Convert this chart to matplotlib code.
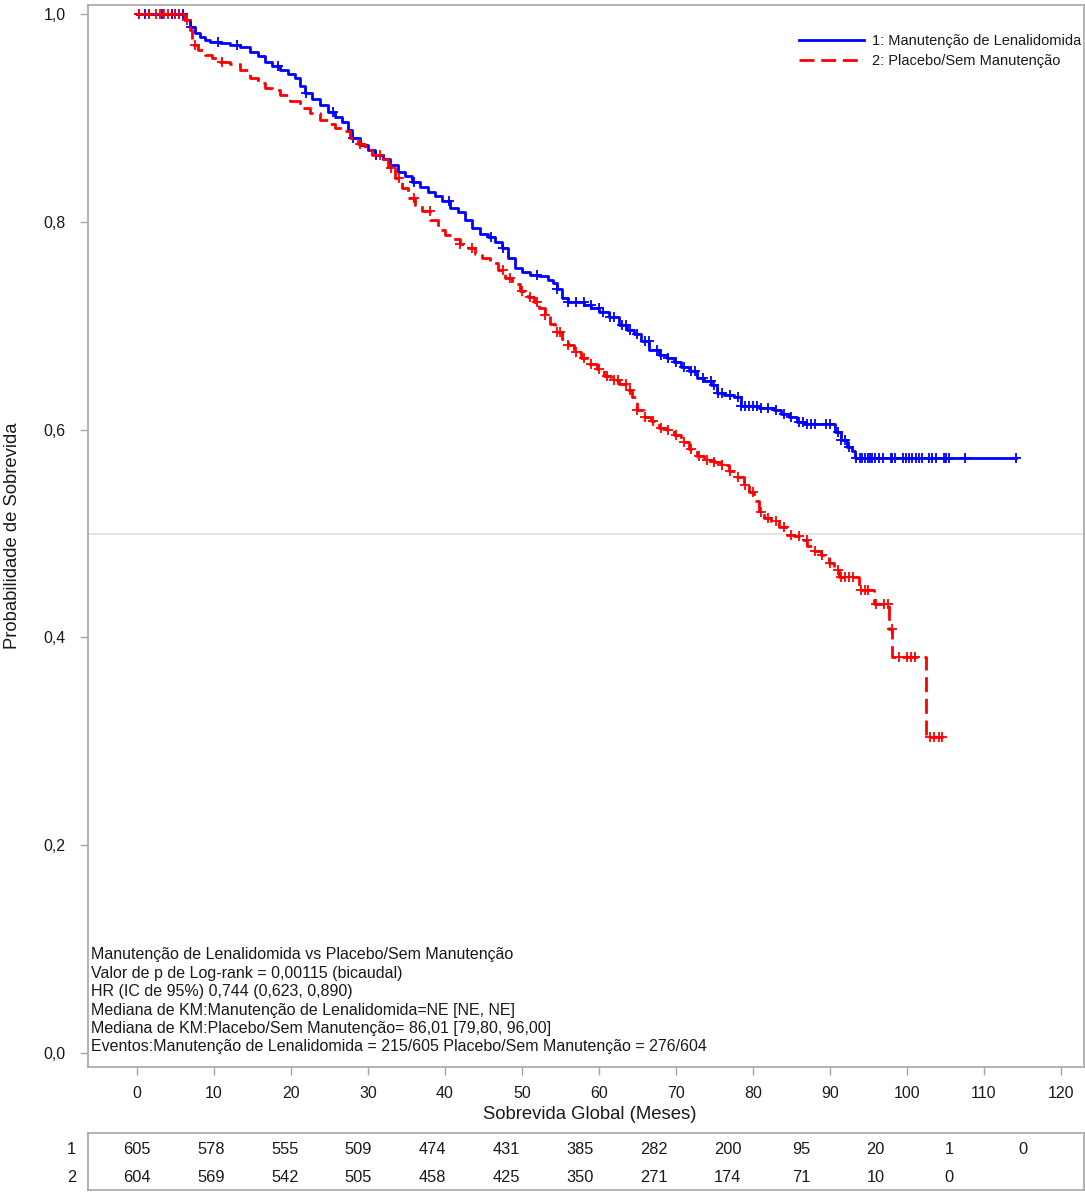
import numpy as np
import matplotlib
matplotlib.use("Agg")
import matplotlib.pyplot as plt

plt.rcParams['font.family'] = ['Liberation Sans', 'DejaVu Sans']

# ---- data ----
group_labels = ["1: Manutenção de Lenalidomida", "2: Placebo/Sem Manutenção"]

lena_t = [0, 6.23, 6.88, 7.53, 8.17, 8.82, 9.47, 10.77, 12.07, 13.36, 14.66, 15.70,
          16.61, 17.51, 18.55, 19.59, 20.50, 21.15, 21.80, 22.70, 23.74, 24.78, 25.69,
          26.60, 27.37, 27.89, 28.93, 29.97, 30.88, 31.92, 32.82, 33.86, 34.77, 35.68,
          36.72, 37.75, 38.66, 39.57, 40.61, 41.65, 42.55, 43.46, 44.50, 45.54, 46.45,
          47.35, 48.13, 49.04, 49.95, 50.99, 52.28, 53.32, 53.97, 54.49, 55.14, 55.92,
          58.12, 59.03, 60.07, 61.37, 62.66, 63.70, 64.61, 65.52, 66.55, 67.85, 68.89,
          69.80, 70.71, 71.74, 72.78, 73.69, 74.60, 75.38, 76.28, 77.58, 78.49, 80.83,
          82.77, 83.68, 84.72, 85.76, 86.66, 90.69, 91.46, 92.24, 92.89, 93.28, 114.2]
lena_s = [1.0, 0.994, 0.988, 0.982, 0.978, 0.975, 0.973, 0.972, 0.970, 0.968, 0.963,
          0.960, 0.954, 0.950, 0.946, 0.942, 0.938, 0.931, 0.924, 0.918, 0.912, 0.906,
          0.901, 0.896, 0.888, 0.881, 0.874, 0.869, 0.864, 0.860, 0.855, 0.848, 0.844,
          0.838, 0.834, 0.829, 0.825, 0.820, 0.813, 0.809, 0.802, 0.794, 0.788, 0.785,
          0.781, 0.775, 0.765, 0.756, 0.752, 0.749, 0.748, 0.744, 0.741, 0.735, 0.727,
          0.723, 0.720, 0.717, 0.713, 0.708, 0.701, 0.696, 0.692, 0.685, 0.677, 0.672,
          0.669, 0.665, 0.660, 0.656, 0.650, 0.647, 0.643, 0.635, 0.633, 0.631, 0.623,
          0.621, 0.619, 0.615, 0.612, 0.607, 0.605, 0.598, 0.590, 0.583, 0.579, 0.573,
          0.573]
lena_cens = [0.2, 1.0, 1.5, 3.2, 4.5, 5.0, 5.5, 6.0, 7.0, 10.5, 13.0, 18.3, 22.0, 25.5,
             28.0, 31.0, 36.0, 40.5, 46.0, 47.5, 52.0, 54.5, 56.0, 57.0, 58.0, 59.0,
             60.0, 60.5, 61.5, 62.0, 63.0, 63.5, 64.0, 65.0, 66.0, 66.5, 67.5, 68.0,
             69.0, 70.0, 71.0, 72.0, 72.5, 73.5, 74.5, 75.0, 75.5, 76.0, 77.0, 78.0,
             78.5, 79.0, 79.5, 80.0, 80.5, 81.0, 82.0, 83.0, 84.0, 85.0, 86.0, 86.5,
             87.0, 87.5, 88.0, 89.5, 90.0, 91.0, 91.5, 92.0, 92.5, 93.4, 93.9, 94.2,
             94.6, 94.9, 95.2, 95.5, 95.8, 96.4, 96.9, 97.9, 98.1, 98.5, 99.5, 99.9,
             100.3, 100.7, 101.2, 101.6, 102.0, 102.9, 103.3, 103.8, 104.8, 105.1,
             105.5, 107.6, 114.2]

plac_t = [0, 6.23, 6.88, 7.14, 7.91, 8.82, 9.73, 10.77, 12.07, 13.36, 14.66, 15.70,
          16.61, 17.51, 18.55, 19.85, 21.15, 22.44, 23.74, 24.78, 25.69, 26.60, 27.63,
          28.67, 29.58, 30.49, 31.53, 32.56, 33.47, 34.38, 35.16, 36.07, 36.97, 38.01,
          39.05, 39.96, 40.87, 41.90, 42.94, 43.85, 44.76, 45.80, 46.83, 47.74, 48.65,
          49.69, 50.73, 51.63, 52.28, 52.93, 53.58, 54.23, 55.14, 55.92, 56.82, 57.73,
          58.77, 59.81, 60.72, 61.62, 62.66, 63.70, 64.35, 65.00, 65.91, 66.81, 67.85,
          68.89, 69.80, 70.71, 71.74, 72.78, 73.69, 74.99, 75.89, 76.93, 77.97, 78.88,
          79.53, 80.18, 80.83, 81.47, 82.38, 83.42, 84.33, 85.37, 86.27, 87.05, 87.96,
          88.87, 89.91, 90.56, 91.20, 93.80, 95.75, 97.69, 98.08, 102.49, 104.7]
plac_s = [1.0, 0.994, 0.985, 0.970, 0.965, 0.961, 0.958, 0.954, 0.952, 0.946, 0.938,
          0.934, 0.929, 0.927, 0.922, 0.916, 0.910, 0.905, 0.898, 0.894, 0.890, 0.887,
          0.881, 0.875, 0.869, 0.864, 0.860, 0.852, 0.842, 0.833, 0.823, 0.816, 0.810,
          0.802, 0.792, 0.787, 0.783, 0.779, 0.775, 0.769, 0.765, 0.760, 0.754, 0.746,
          0.740, 0.733, 0.728, 0.723, 0.717, 0.710, 0.702, 0.694, 0.687, 0.681, 0.675,
          0.669, 0.663, 0.658, 0.652, 0.648, 0.644, 0.638, 0.631, 0.619, 0.612, 0.608,
          0.602, 0.600, 0.595, 0.588, 0.581, 0.575, 0.571, 0.569, 0.566, 0.560, 0.554,
          0.547, 0.540, 0.531, 0.521, 0.515, 0.512, 0.506, 0.499, 0.498, 0.494, 0.488,
          0.483, 0.479, 0.472, 0.465, 0.458, 0.446, 0.432, 0.408, 0.381, 0.304, 0.304]
plac_cens = [0.3, 1.5, 2.5, 3.0, 3.5, 4.0, 5.0, 5.5, 6.5, 7.5, 11.0, 29.0, 31.5, 33.0,
             34.0, 36.0, 38.0, 42.0, 43.5, 47.5, 48.5, 50.0, 51.0, 52.0, 53.0, 54.5,
             55.0, 56.0, 57.0, 58.0, 59.0, 60.0, 61.0, 62.0, 62.5, 63.5, 64.0, 65.0,
             66.0, 67.0, 68.0, 69.0, 70.0, 71.0, 72.0, 73.0, 74.0, 75.0, 76.0, 77.0,
             78.0, 79.0, 80.0, 81.0, 82.0, 83.0, 84.0, 85.0, 86.0, 87.0, 88.0, 89.0,
             90.0, 91.0, 91.5, 92.0, 92.5, 93.0, 94.0, 94.5, 95.0, 96.0, 97.0, 97.5,
             98.0, 99.0, 100.0, 100.5, 101.0, 103.0, 103.5, 104.2, 104.6]

risk_times = [0, 10, 20, 30, 40, 50, 60, 70, 80, 90, 100, 110, 120]
risk_lena = [605, 578, 555, 509, 474, 431, 385, 282, 200, 95, 20, 1, 0]
risk_plac = [604, 569, 542, 505, 458, 425, 350, 271, 174, 71, 10, 0]

stats_lines = [
    "Manutenção de Lenalidomida vs Placebo/Sem Manutenção",
    "Valor de p de Log-rank = 0,00115 (bicaudal)",
    "HR (IC de 95%) 0,744 (0,623, 0,890)",
    "Mediana de KM:Manutenção de Lenalidomida=NE [NE, NE]",
    "Mediana de KM:Placebo/Sem Manutenção= 86,01 [79,80, 96,00]",
    "Eventos:Manutenção de Lenalidomida = 215/605 Placebo/Sem Manutenção = 276/604",
]

xticks = [0, 10, 20, 30, 40, 50, 60, 70, 80, 90, 100, 110, 120]
yticks = [0.0, 0.2, 0.4, 0.6, 0.8, 1.0]

# ---- figure ----
W, H = 1085, 1192
fig = plt.figure(figsize=(W / 100, H / 100), dpi=100)
gray = "#a6a6a6"
txt = "#1a1a1a"
FS = 11.5

xmin, xmax = -6.36, 123.0
ax_l, ax_r, ax_t, ax_b = 88, 1084, 5, 1067
ax = fig.add_axes([ax_l / W, 1 - ax_b / H, (ax_r - ax_l) / W, (ax_b - ax_t) / H])
ax.set_xlim(xmin, xmax)
ax.set_ylim(-0.0135, 1.0087)

ax.axhline(0.5, color="#e0e0e0", lw=1.2, zorder=1)


def step_val(ts, ss, t):
    idx = np.searchsorted(ts, t, side="right") - 1
    return np.asarray(ss)[idx]


ax.step(lena_t, lena_s, where="post", color="#0000ff", lw=2.0, zorder=3,
        label=group_labels[0])
ax.step(plac_t, plac_s, where="post", color="#ff0000", lw=2.0, zorder=4,
        dashes=(5.4, 2.4), label=group_labels[1])
ax.plot(lena_cens, step_val(lena_t, lena_s, lena_cens), ls="none", marker="+",
        ms=7.5, mew=1.3, color="#0000ff", zorder=3)
ax.plot(plac_cens, step_val(plac_t, plac_s, plac_cens), ls="none", marker="+",
        ms=7.5, mew=1.3, color="#ff0000", zorder=4)

for sp in ax.spines.values():
    sp.set_color(gray)
    sp.set_linewidth(1.2)

ax.set_xticks(xticks)
ax.set_xticklabels([str(v) for v in xticks])
ax.set_yticks(yticks)
ax.set_yticklabels([f"{v:.1f}".replace(".", ",") for v in yticks])
ax.tick_params(axis="both", direction="out", length=6, width=1, color=gray,
               labelsize=FS, labelcolor=txt)
ax.tick_params(axis="x", pad=8)
ax.tick_params(axis="y", pad=10)

ax.set_xlabel("Sobrevida Global (Meses)", fontsize=13.3, color=txt)
ax.xaxis.set_label_coords(0.504, (ax_b - 1106) / (ax_b - ax_t))
ax.set_ylabel("Probabilidade de Sobrevida", fontsize=13.3, color=txt)
ax.yaxis.set_label_coords((21 - ax_l) / (ax_r - ax_l), 0.5)

leg = ax.legend(loc="upper right", bbox_to_anchor=(1087 / W, 1 - 28 / H),
                bbox_transform=fig.transFigure, frameon=False,
                fontsize=10.5, handlelength=4.45, handletextpad=0.55,
                labelspacing=0.42, borderaxespad=0.0)
for t in leg.get_texts():
    t.set_color(txt)

for i, line in enumerate(stats_lines):
    fig.text(91 / W, 1 - (955 + i * 18.4) / H, line, fontsize=11.5,
             color=txt, va="center", ha="left")

# ---- risk table (its own, slightly narrower time scale) ----
rt_t, rt_b = 1133, 1190
rax = fig.add_axes([ax_l / W, 1 - rt_b / H, (ax_r - ax_l) / W, (rt_b - rt_t) / H])
rscale = (1023 - 137) / 120.0
rax.set_xlim((ax_l - 137) / rscale, (ax_r - 137) / rscale)
rax.set_ylim(0, 1)
for sp in rax.spines.values():
    sp.set_color(gray)
    sp.set_linewidth(1.2)
rax.set_xticks([])
rax.set_yticks([])
r1 = (rt_b - 1150) / (rt_b - rt_t)
r2 = (rt_b - 1178) / (rt_b - rt_t)
for t, v in zip(risk_times, risk_lena):
    rax.text(t, r1, str(v), ha="center", va="center", fontsize=11.8, color=txt)
for t, v in zip(risk_times, risk_plac):
    rax.text(t, r2, str(v), ha="center", va="center", fontsize=11.8, color=txt)
rax.text(-0.012, r1, "1", transform=rax.transAxes, ha="right", va="center",
         fontsize=11.8, color=txt)
rax.text(-0.012, r2, "2", transform=rax.transAxes, ha="right", va="center",
         fontsize=11.8, color=txt)

fig.savefig("out.png", dpi=100)
